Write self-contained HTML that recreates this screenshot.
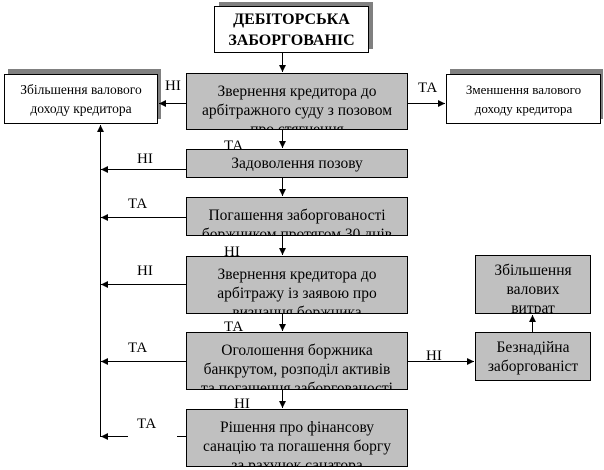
<!DOCTYPE html>
<html><head><meta charset="utf-8"><style>
body{margin:0;width:604px;height:470px;background:#fff;position:relative;overflow:hidden;font-family:"Liberation Serif","DejaVu Serif",serif;}
.b{position:absolute;box-sizing:border-box;border:1px solid #000;text-align:center;overflow:hidden;font-size:15.5px;line-height:19px;color:#000;white-space:nowrap;}
.g{background:#c0c0c0;}
.w{background:#fff;}
.s{position:absolute;background:#808080;}
.l{position:absolute;font-size:15px;line-height:15px;}
svg{position:absolute;left:0;top:0;}
</style></head><body>
<div class="s" style="left:219px;top:2px;width:154px;height:47px"></div>
<div class="b w" style="left:214px;top:6px;width:155px;height:47px;font-weight:bold;font-size:16px;line-height:21px;padding-top:2px">ДЕБІТОРСЬКА<br>ЗАБОРГОВАНІС</div>
<div class="s" style="left:8px;top:69px;width:153px;height:50px"></div>
<div class="b w" style="left:4px;top:74px;width:154px;height:50px;font-size:13.5px;line-height:19px;padding-top:5px">Збільшення валового<br>доходу кредитора</div>
<div class="s" style="left:450px;top:69px;width:153px;height:50px"></div>
<div class="b w" style="left:446px;top:74px;width:155px;height:50px;font-size:13px;line-height:19px;padding-top:5px">Зменшення валового<br>доходу кредитора</div>
<div class="b g" style="left:186px;top:73px;width:222px;height:57px;padding-top:8px">Звернення кредитора до<br>арбітражного суду з позовом<br>про стягнення</div>
<div class="b g" style="left:186px;top:149px;width:222px;height:29px;padding-top:4px">Задоволення позову</div>
<div class="b g" style="left:186px;top:197px;width:222px;height:39px;padding-top:8px">Погашення заборгованості<br>боржником протягом 30 днів</div>
<div class="b g" style="left:186px;top:256px;width:222px;height:58px;padding-top:8px">Звернення кредитора до<br>арбітражу із заявою про<br>визнання боржника</div>
<div class="b g" style="left:186px;top:332px;width:222px;height:58px;padding-top:8px">Оголошення боржника<br>банкрутом, розподіл активів<br>та погашення заборгованості</div>
<div class="b g" style="left:186px;top:409px;width:222px;height:58px;padding-top:8px">Рішення про фінансову<br>санацію та погашення боргу<br>за рахунок санатора</div>
<div class="b g" style="left:475px;top:255px;width:116px;height:59px;padding-top:5px">Збільшення<br>валових<br>витрат</div>
<div class="b g" style="left:475px;top:332px;width:116px;height:49px;padding-top:5px">Безнадійна<br>заборгованіст</div>
<svg width="604" height="470">
<defs><marker id="a" markerWidth="8" markerHeight="8" refX="7" refY="4" orient="auto" markerUnits="userSpaceOnUse"><path d="M0,0.5 L7,4 L0,7.5z" fill="#000"/></marker></defs>
<g stroke="#000" stroke-width="1" fill="none">
<line x1="282.5" y1="53" x2="282.5" y2="72" marker-end="url(#a)"/>
<line x1="282.5" y1="130" x2="282.5" y2="148" marker-end="url(#a)"/>
<line x1="282.5" y1="178" x2="282.5" y2="196" marker-end="url(#a)"/>
<line x1="282.5" y1="236" x2="282.5" y2="255" marker-end="url(#a)"/>
<line x1="282.5" y1="314" x2="282.5" y2="331" marker-end="url(#a)"/>
<line x1="282.5" y1="390" x2="282.5" y2="408" marker-end="url(#a)"/>
<line x1="186" y1="103.5" x2="159" y2="103.5" marker-end="url(#a)"/>
<line x1="408" y1="103.5" x2="445" y2="103.5" marker-end="url(#a)"/>
<line x1="100.5" y1="437" x2="100.5" y2="125" marker-end="url(#a)"/>
<line x1="186" y1="169.5" x2="101" y2="169.5" marker-end="url(#a)"/>
<line x1="186" y1="217.5" x2="101" y2="217.5" marker-end="url(#a)"/>
<line x1="186" y1="284.5" x2="101" y2="284.5" marker-end="url(#a)"/>
<line x1="186" y1="361.5" x2="101" y2="361.5" marker-end="url(#a)"/>
<line x1="186" y1="436.5" x2="177" y2="436.5"/>
<line x1="128" y1="436.5" x2="101" y2="436.5" marker-end="url(#a)"/>
<line x1="408" y1="361.5" x2="474" y2="361.5" marker-end="url(#a)"/>
<line x1="532.5" y1="332" x2="532.5" y2="315" marker-end="url(#a)"/>
</g></svg>
<div class="l" style="left:165px;top:79px">НІ</div>
<div class="l" style="left:418px;top:81px">ТА</div>
<div class="l" style="left:224px;top:139px">ТА</div>
<div class="l" style="left:137px;top:152px">НІ</div>
<div class="l" style="left:128px;top:197px">ТА</div>
<div class="l" style="left:224px;top:245px">НІ</div>
<div class="l" style="left:137px;top:264px">НІ</div>
<div class="l" style="left:224px;top:320px">ТА</div>
<div class="l" style="left:128px;top:341px">ТА</div>
<div class="l" style="left:426px;top:349px">НІ</div>
<div class="l" style="left:234px;top:397px">НІ</div>
<div class="l" style="left:137px;top:417px">ТА</div>
</body></html>
